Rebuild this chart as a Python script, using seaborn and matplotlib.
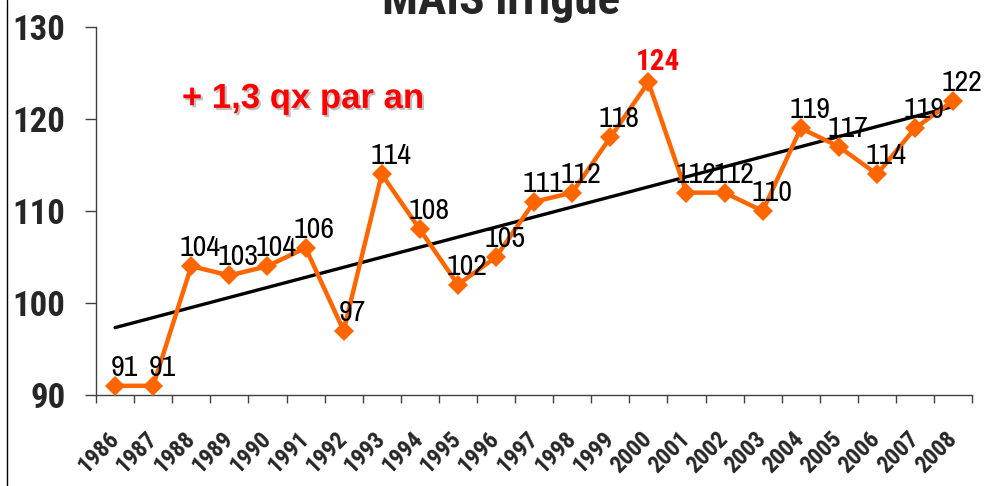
import numpy as np
import pandas as pd
import seaborn as sns
import matplotlib.pyplot as plt
import matplotlib.patheffects as pe
from matplotlib.lines import Line2D

years = list(range(1986, 2009))
rendement = [91, 91, 104, 103, 104, 106, 97, 114, 108, 102, 105, 111,
             112, 118, 124, 112, 112, 110, 119, 117, 114, 119, 122]
year_labels = [str(y) for y in years]
y_ticks = [90, 100, 110, 120, 130]
title = "MAIS irrigué"
trend_note = "+ 1,3 qx par an"
record_year = 2000

df = pd.DataFrame({"annee": years, "qx": rendement})

sns.set_style("white")
plt.rcParams["font.family"] = ["Archivo Narrow", "Liberation Sans", "DejaVu Sans"]
bold_narrow = ["Roboto Condensed", "Liberation Sans", "DejaVu Sans"]

fig = plt.figure(figsize=(9.87, 4.86), dpi=100)
ax = fig.add_axes([0.0973, 0.1872, 0.8877, 0.7572])

orange = "#FF6600"
# trend line (linear regression of the yields)
sns.regplot(data=df, x="annee", y="qx", scatter=False, ci=None, truncate=True,
            color="black", line_kws={"linewidth": 2.4, "zorder": 2}, ax=ax)
sns.lineplot(data=df, x="annee", y="qx", color=orange, linewidth=3.2,
             marker="D", markersize=10.5, markeredgewidth=0, zorder=3, ax=ax)

# value labels
for yr, v in zip(years, rendement):
    if yr == record_year:
        ax.annotate(str(v), (yr, v), xytext=(10, 6), textcoords="offset pixels",
                    ha="center", va="bottom", fontsize=21, fontweight="bold",
                    family=bold_narrow, color="red", zorder=4)
    else:
        ax.annotate(str(v), (yr, v), xytext=(9, 5), textcoords="offset pixels",
                    ha="center", va="bottom", fontsize=21.5, color="black", zorder=4)

ax.text(0.098, 0.806, trend_note, transform=ax.transAxes, color="red",
        fontsize=25, fontweight="bold", ha="left", va="center",
        family=["Liberation Sans", "DejaVu Sans"],
        path_effects=[pe.withSimplePatchShadow(offset=(1.5, -1.5),
                                               shadow_rgbFace="#999999", alpha=0.6)])

ax.set_xlim(years[0] - 0.5, years[-1] + 0.5)
ax.set_ylim(90, 130)
ax.set_yticks(y_ticks)
ax.set_yticklabels([str(t) for t in y_ticks], fontsize=25, fontweight="bold",
                   family=bold_narrow)
ax.set_xticks(years)
ax.set_xticklabels(year_labels, rotation=45, ha="right", va="center",
                   rotation_mode="anchor", fontsize=17, fontweight="bold",
                   family=bold_narrow)
ax.set_xticks(np.arange(years[0] - 0.5, years[-1] + 1), minor=True)
ax.tick_params(axis="x", which="major", length=0, pad=29)
ax.tick_params(axis="x", which="minor", length=6, width=1, color="#404040",
               direction="out", bottom=True)
ax.tick_params(axis="y", length=8, width=1, color="#404040", direction="out",
               left=True, pad=14)
ax.set_xlabel("")
ax.set_ylabel("")
sns.despine(ax=ax)
for s in ["left", "bottom"]:
    ax.spines[s].set_color("#404040")
    ax.spines[s].set_linewidth(1)

fig.text(0.508, 1 - 14 / 486, title, ha="center", va="baseline",
         fontsize=34, fontweight="bold", family=bold_narrow)
fig.add_artist(Line2D([7 / 987, 7 / 987], [0, 1], transform=fig.transFigure,
                      color="black", linewidth=1))

plt.savefig("out.png", dpi=100)
